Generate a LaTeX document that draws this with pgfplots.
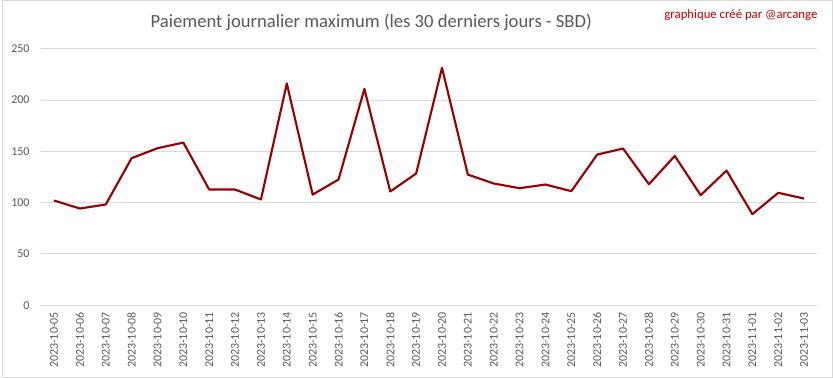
\documentclass[border=0pt]{standalone}
\usepackage{fontspec}
\setmainfont{Carlito}
\usepackage{pgfplots}
\pgfplotsset{compat=1.18}
\definecolor{linered}{RGB}{153,0,0}
\definecolor{gridgrey}{RGB}{217,217,217}
\definecolor{textgrey}{RGB}{89,89,89}
\definecolor{annored}{RGB}{192,0,0}
\begin{document}
\begin{tikzpicture}
\draw[gridgrey, line width=0.75pt] (0.375pt,0.375pt) rectangle (624.375pt,283.875pt);
\node[font=\fontsize{14}{16}\selectfont, text=textgrey] at (277.5pt,267.75pt) {Paiement journalier maximum (les 30 derniers jours - SBD)};
\node[font=\fontsize{9.6}{11}\selectfont, text=annored, anchor=east] at (616.5pt,272.5pt) {graphique créé par @arcange};
\begin{axis}[
  at={(29.25pt,54.75pt)}, anchor=south west,
  scale only axis, width=583.5pt, height=192.75pt,
  xmin=-0.5, xmax=29.5, ymin=0, ymax=250,
  ytick={0,50,...,250},
  xtick={0,...,29},
  xticklabels={2023-10-05,2023-10-06,2023-10-07,2023-10-08,2023-10-09,2023-10-10,2023-10-11,2023-10-12,2023-10-13,2023-10-14,2023-10-15,2023-10-16,2023-10-17,2023-10-18,2023-10-19,2023-10-20,2023-10-21,2023-10-22,2023-10-23,2023-10-24,2023-10-25,2023-10-26,2023-10-27,2023-10-28,2023-10-29,2023-10-30,2023-10-31,2023-11-01,2023-11-02,2023-11-03},
  /pgf/number format/assume math mode=true,
  major tick length=0pt,
  axis x line*=bottom, axis y line*=left,
  x axis line style={gridgrey, line width=0.75pt, -},
  y axis line style={draw=none},
  ymajorgrids, grid style={gridgrey, line width=0.75pt},
  x tick label style={rotate=90, anchor=east, inner sep=5pt, font=\fontsize{9}{10}\selectfont, text=textgrey},
  y tick label style={anchor=east, inner sep=8.5pt, font=\fontsize{9}{10}\selectfont, text=textgrey},
]
\addplot[linered, line width=1.6pt, line join=round, mark=none] coordinates {
(0,102.1) (1,94.3) (2,98.2) (3,143.4) (4,153.1) (5,158.6) (6,112.8) (7,112.8) (8,103.1) (9,216.2)
(10,107.9) (11,122.6) (12,211.0) (13,110.9) (14,128.4) (15,231.5) (16,127.4) (17,118.7) (18,114.1) (19,117.7)
(20,111.2) (21,146.9) (22,152.8) (23,118.0) (24,145.6) (25,107.3) (26,131.3) (27,88.8) (28,109.6) (29,104.0)
};
\end{axis}
\end{tikzpicture}
\end{document}
